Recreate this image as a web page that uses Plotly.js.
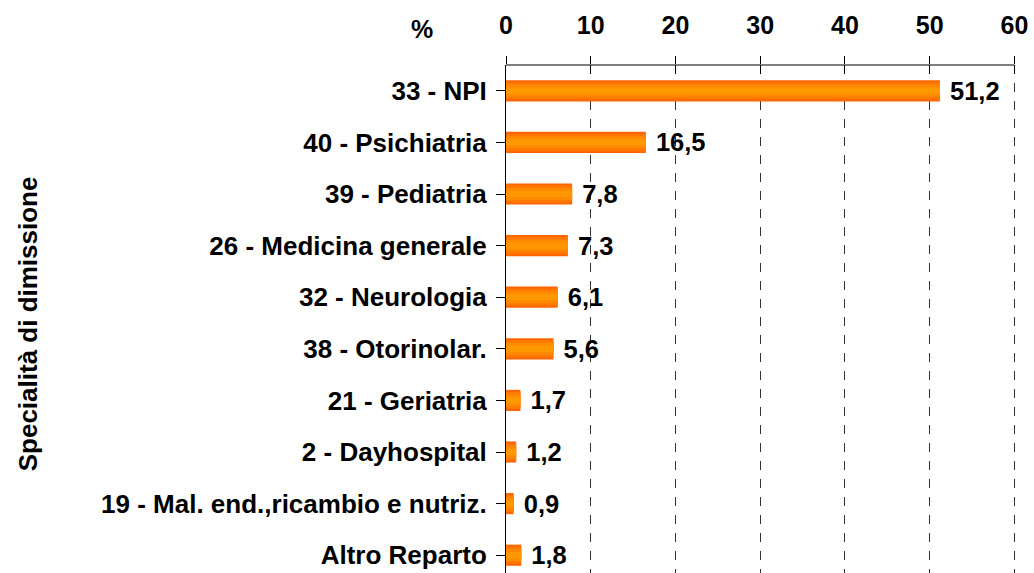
<!DOCTYPE html>
<html>
<head>
<meta charset="utf-8">
<script src="https://cdn.plot.ly/plotly-3.0.1.min.js"></script>
<style>html,body{margin:0;padding:0;background:#fff;}#chart{width:1034px;height:573px;}</style>
</head>
<body>
<div id="chart"></div>
<script>
const categories = ["33 - NPI","40 - Psichiatria","39 - Pediatria","26 - Medicina generale","32 - Neurologia","38 - Otorinolar.","21 - Geriatria","2 - Dayhospital","19 - Mal. end.,ricambio e nutriz.","Altro Reparto"];
const values = [51.2,16.5,7.8,7.3,6.1,5.6,1.7,1.2,0.9,1.8];
const xTicks = [0,10,20,30,40,50,60];
const yTitle = "Specialità di dimissione";
const xTitle = "%";

const font = "Arial, 'Liberation Sans', sans-serif";
const idx = categories.map((c,i)=>i);

function layer(width, color, withText){
  return {
    type:'bar', orientation:'h', x: values, y: idx, width: width,
    marker:{color: color, line:{width:0}},
    hoverinfo:'skip',
    text: withText ? values.map(v=>'\u00A0' + v.toFixed(1).replace('.',',')) : undefined,
    textposition: withText ? 'outside' : 'none',
    constraintext:'none',
    textfont:{family:font, size:25.5, color:'#000', weight:'bold'},
    cliponaxis:false,
    xaxis:'x', yaxis:'y'
  };
}

const traces = [
  layer(0.41,'#FF6600',true),
  layer(0.33,'#FF7800',false),
  layer(0.23,'#FF8A00',false),
  layer(0.12,'#FF9800',false)
];
// secondary axis for inward tick halves
traces.push({type:'scatter', x:[0,60], y:[0,0], mode:'none', xaxis:'x2', yaxis:'y', hoverinfo:'skip', showlegend:false});

const xRange = [0,60.3];
const layout = {
  width:1034, height:573,
  margin:{l:506, r:16.5, t:65, b:0},
  paper_bgcolor:'#fff', plot_bgcolor:'#fff',
  barmode:'overlay', showlegend:false,
  font:{family:font, color:'#000'},
  xaxis:{
    side:'top', range:xRange, tickvals:xTicks, ticktext:xTicks.map(String),
    showline:false,
    ticks:'outside', ticklen:8, tickcolor:'#000', tickwidth:1,
    ticklabelstandoff:12, ticklabeloverflow:'allow',
    showgrid:true, gridcolor:'#333', griddash:'dash', gridwidth:1,
    zeroline:false,
    tickfont:{family:font, size:25, color:'#000', weight:'bold'},
    fixedrange:true
  },
  xaxis2:{
    overlaying:'x', side:'top', range:xRange, tickvals:xTicks,
    showticklabels:false, ticks:'inside', ticklen:9, tickcolor:'#000',
    showgrid:false, zeroline:false, showline:false, fixedrange:true
  },
  yaxis:{
    range:[9.345,-0.5], tickmode:'array', tickvals:idx, ticktext:categories,
    showline:true, linecolor:'#000', linewidth:1,
    ticks:'outside', ticklen:9, tickcolor:'#000', tickson:'boundaries',
    ticklabelstandoff:4,
    showgrid:false, zeroline:false,
    tickfont:{family:font, size:26, color:'#000', weight:'bold'},
    fixedrange:true
  },
  shapes:[
    {type:'line', xref:'x', yref:'paper', x0:xTicks[0], x1:xTicks[xTicks.length-1], y0:1, y1:1,
     line:{color:'#000', width:1}}
  ],
  annotations:[
    {text:xTitle, xref:'paper', yref:'paper', x:-0.164, y:1.070, showarrow:false,
     font:{family:font, size:25, color:'#000', weight:'bold'}, xanchor:'center', yanchor:'middle'},
    {text:yTitle, xref:'paper', yref:'paper', x:-0.935, y:0.490, textangle:-90, showarrow:false,
     font:{family:font, size:26, color:'#000', weight:'bold'}, xanchor:'center', yanchor:'middle'}
  ]
};

Plotly.newPlot('chart', traces, layout, {staticPlot:true, displayModeBar:false});
</script>
</body>
</html>
